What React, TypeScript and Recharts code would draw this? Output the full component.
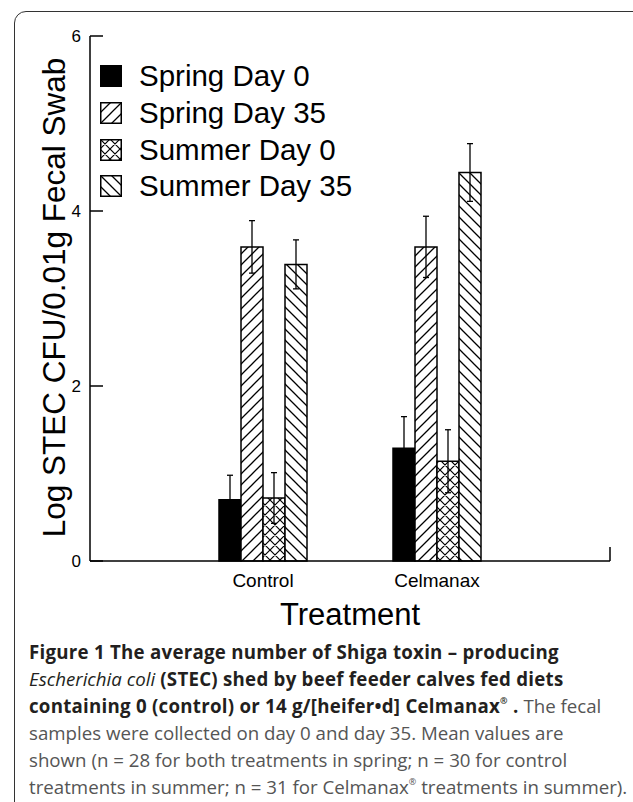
import React from "react";
import * as Recharts from "recharts";
import { BarChart, Bar, XAxis, YAxis, ErrorBar } from "recharts";

// values (log CFU), error = half of the whisker span
const treatments = ["Control", "Celmanax"];
const springDay0 = [0.7, 1.29];
const springDay0Err = [0.28, 0.36];
const springDay35 = [3.59, 3.59];
const springDay35Err = [0.3, 0.35];
const summerDay0 = [0.72, 1.14];
const summerDay0Err = [0.29, 0.36];
const summerDay35 = [3.39, 4.44];
const summerDay35Err = [0.28, 0.33];
const yTicks = [0, 2, 4, 6];

const data = treatments.map((t, i) => ({
  treatment: t,
  s0: springDay0[i],
  s0e: springDay0Err[i],
  s35: springDay35[i],
  s35e: springDay35Err[i],
  u0: summerDay0[i],
  u0e: summerDay0Err[i],
  u35: summerDay35[i],
  u35e: summerDay35Err[i],
}));

const series = [
  { key: "s0", err: "s0e", name: "Spring Day 0", fill: "#000" },
  { key: "s35", err: "s35e", name: "Spring Day 35", fill: "url(#hatchUp)" },
  { key: "u0", err: "u0e", name: "Summer Day 0", fill: "url(#crossHatch)" },
  { key: "u35", err: "u35e", name: "Summer Day 35", fill: "url(#hatchDown)" },
];

const axisFont = "'Liberation Sans', Arial, sans-serif";
const captionFont = "'Open Sans', 'Noto Sans', sans-serif";

// hatch fills shared by bars and legend swatches
function Patterns() {
  return (
    <svg width={0} height={0} style={{ position: "absolute" }}>
      <defs>
        <pattern id="hatchUp" patternUnits="userSpaceOnUse" width={11} height={11}>
          <rect width={11} height={11} fill="#fff" />
          <path d="M0,11 L11,0 M-3,3 L3,-3 M8,14 L14,8" stroke="#000" strokeWidth={1.3} />
        </pattern>
        <pattern id="hatchDown" patternUnits="userSpaceOnUse" width={11} height={11}>
          <rect width={11} height={11} fill="#fff" />
          <path d="M0,0 L11,11 M-3,8 L3,14 M8,-3 L14,3" stroke="#000" strokeWidth={1.3} />
        </pattern>
        <pattern id="crossHatch" patternUnits="userSpaceOnUse" width={10} height={10}>
          <rect width={10} height={10} fill="#fff" />
          <path
            d="M0,10 L10,0 M-3,3 L3,-3 M7,13 L13,7 M0,0 L10,10 M-3,7 L3,13 M7,-3 L13,3"
            stroke="#000"
            strokeWidth={1.2}
          />
        </pattern>
      </defs>
    </svg>
  );
}

// small upright tick closing the x axis on the right
function EdgeTick() {
  const usePlotArea = (Recharts as any).usePlotArea;
  const area = usePlotArea ? usePlotArea() : null;
  if (!area) return null;
  const x = area.x + area.width;
  const y = area.y + area.height;
  return <line x1={x} x2={x} y1={y - 14} y2={y} stroke="#000" strokeWidth={1.5} />;
}

function YLabel({ viewBox }: any) {
  const { x, y, height } = viewBox;
  return (
    <text
      transform={`translate(${x + 54}, ${y + height / 2 - 1}) rotate(-90)`}
      textAnchor="middle"
      dominantBaseline="central"
      fontSize={31.5}
      fontFamily={axisFont}
      fill="#000"
    >
      Log STEC CFU/0.01g Fecal Swab
    </text>
  );
}

// legend sits inside the plot, top-left, without taking layout space
function LegendBox() {
  return (
    <div style={{ position: "absolute", left: 100, top: 58, display: "flex", flexDirection: "column" }}>
      {series.map((s) => (
        <div key={s.key} style={{ display: "flex", alignItems: "center", height: 36.7 }}>
          <svg width={22} height={22}>
            <rect x={0.75} y={0.75} width={20.5} height={20.5} fill={s.fill} stroke="#000" strokeWidth={1.5} />
          </svg>
          <span style={{ marginLeft: 17, fontSize: 29.5, fontFamily: axisFont, color: "#000", lineHeight: "30px" }}>
            {s.name}
          </span>
        </div>
      ))}
    </div>
  );
}

const boldColor = "#231f20";
const plainColor = "#555";
const supStyle: React.CSSProperties = { fontSize: 9, lineHeight: 0, position: "relative", top: -2 };

function Caption() {
  const b: React.CSSProperties = { color: boldColor, letterSpacing: 0.25 };
  return (
    <div
      style={{
        position: "absolute",
        left: 29,
        top: 638,
        fontFamily: captionFont,
        fontSize: 18.7,
        lineHeight: "27px",
        color: plainColor,
        whiteSpace: "nowrap",
      }}
    >
      <div style={{ height: 27 }}>
        <b style={b}>Figure 1 The average number of Shiga toxin – producing</b>
      </div>
      <div style={{ height: 27 }}>
        <i style={{ color: boldColor }}>Escherichia coli</i>
        <b style={b}> (STEC) shed by beef feeder calves fed diets</b>
      </div>
      <div style={{ height: 27 }}>
        <b style={b}>
          containing 0 (control) or 14 g/[heifer•d] Celmanax<sup style={supStyle}>®</sup> .
        </b>{" "}
        The fecal
      </div>
      <div style={{ height: 27 }}>samples were collected on day 0 and day 35. Mean values are</div>
      <div style={{ height: 27 }}>shown (n = 28 for both treatments in spring; n = 30 for control</div>
      <div style={{ height: 27 }}>
        treatments in summer; n = 31 for Celmanax<sup style={supStyle}>®</sup> treatments in summer).
      </div>
    </div>
  );
}

export default function App() {
  return (
    <div
      style={{
        position: "absolute",
        left: 0,
        top: 0,
        width: 633,
        height: 802,
        overflow: "hidden",
        background: "#fff",
      }}
    >
      <Patterns />
      <div
        style={{
          position: "absolute",
          left: 14,
          top: 11,
          width: 700,
          height: 830,
          border: "1.5px solid #333",
          borderRadius: 12,
        }}
      />
      <BarChart
        width={633}
        height={640}
        data={data}
        margin={{ top: 36, right: 23, bottom: 0, left: 0 }}
        barSize={22}
        barGap={0}
        style={{ position: "absolute", left: 0, top: 0 }}
      >
        <XAxis
          dataKey="treatment"
          padding={{ left: 86, right: 86 }}
          height={79}
          interval={0}
          tickLine={false}
          tickSize={0}
          tickMargin={13}
          axisLine={{ stroke: "#000", strokeWidth: 1.5 }}
          tick={{ fontSize: 19, fill: "#000", fontFamily: axisFont }}
          label={{
            value: "Treatment",
            position: "insideBottom",
            offset: 15,
            fontSize: 31,
            fill: "#000",
            fontFamily: axisFont,
          }}
        />
        <YAxis
          width={90}
          domain={[0, 6]}
          ticks={yTicks}
          tickSize={-13}
          tickMargin={22}
          axisLine={{ stroke: "#000", strokeWidth: 1.5 }}
          tickLine={{ stroke: "#000", strokeWidth: 1.5 }}
          tick={{ fontSize: 17, fill: "#000", fontFamily: axisFont }}
          label={<YLabel />}
        />
        {series.map((s) => (
          <Bar
            key={s.key}
            dataKey={s.key}
            name={s.name}
            fill={s.fill}
            stroke="#000"
            strokeWidth={1.5}
            isAnimationActive={false}
          >
            <ErrorBar dataKey={s.err} width={3} stroke="#000" strokeWidth={1.3} direction="y" />
          </Bar>
        ))}
        <EdgeTick />
      </BarChart>
      <LegendBox />
      <Caption />
    </div>
  );
}
